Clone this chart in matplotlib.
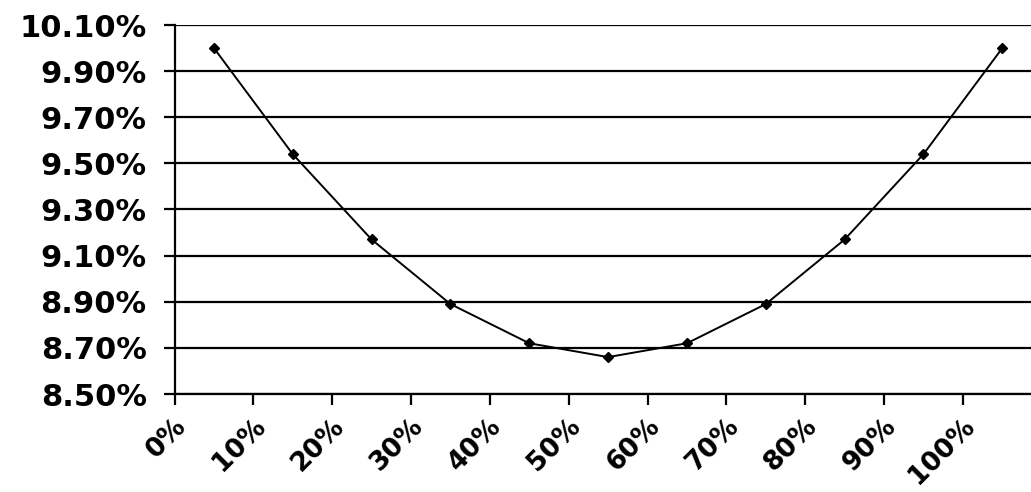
import numpy as np
import matplotlib
matplotlib.use("Agg")
import matplotlib.pyplot as plt

# data
x_labels = ["0%", "10%", "20%", "30%", "40%", "50%", "60%", "70%", "80%", "90%", "100%"]
values = [10.00, 9.54, 9.17, 8.89, 8.72, 8.66, 8.72, 8.89, 9.17, 9.54, 10.00]
y_ticks = [8.50, 8.70, 8.90, 9.10, 9.30, 9.50, 9.70, 9.90, 10.10]

plt.rcParams['font.family'] = ['DejaVu Sans']

fig = plt.figure(figsize=(10.31, 4.92), dpi=100)
W, H = 1031, 492
ax = fig.add_axes([174.5/W, (H-394)/H, (W-174.5)/W, (394-25)/H])

pos = np.arange(len(values)) + 0.5
ax.plot(pos, values, color='black', lw=1.4, marker='D', markersize=5.5, zorder=3)

ax.set_ylim(8.50, 10.10)
ax.set_xlim(0, (W-174.5)/78.84)
ax.set_yticks(y_ticks)
ax.set_yticklabels(["%.2f%%" % v for v in y_ticks], fontsize=22, fontweight='bold')
ax.yaxis.grid(True, color='black', lw=1.6)
ax.set_axisbelow(True)

# tick marks on category edges, labels drawn a bit to the right of them
ax.set_xticks(np.arange(len(x_labels)))
ax.set_xticklabels([])
ax.set_xticks(np.arange(len(x_labels)) + 0.22, minor=True)
ax.set_xticklabels(x_labels, minor=True, fontsize=19, fontweight='bold',
                   rotation=45, ha='right')

ax.tick_params(axis='y', length=8, width=1.6, pad=12, direction='out')
ax.tick_params(axis='x', which='major', length=8, width=1.6, direction='out')
ax.tick_params(axis='x', which='minor', length=0, pad=14)

for s in ['top', 'right']:
    ax.spines[s].set_visible(False)
ax.spines['left'].set_linewidth(1.6)
ax.spines['bottom'].set_linewidth(1.6)

fig.savefig("out.png", dpi=100)
